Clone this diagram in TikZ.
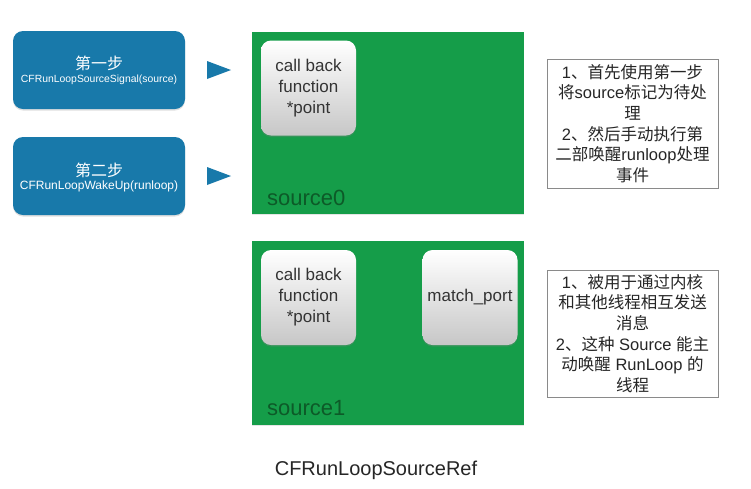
\documentclass[tikz,border=0pt]{standalone}
\usepackage{fontspec}
\setmainfont{Liberation Sans}
\newfontfamily\cjk{Noto Sans CJK SC}
\usetikzlibrary{shadows}
\definecolor{stepblue}{HTML}{1879AA}
\definecolor{panelgreen}{HTML}{159D49}
\definecolor{srctext}{HTML}{0D5A28}
\definecolor{notegray}{HTML}{8A8A8A}
\definecolor{darktext}{HTML}{333333}
\tikzset{
  stepbox/.style={fill=stepblue, rounded corners=10pt, minimum width=172pt, minimum height=78pt, inner sep=0pt,
    drop shadow={opacity=0.25, shadow xshift=0pt, shadow yshift=-1.5pt}},
  steptitle/.style={text=white, font=\cjk\fontsize{16}{18}\selectfont, inner sep=0pt},
  stepcall/.style={text=white, inner sep=0pt},
  pointer/.style={fill=stepblue},
  panel/.style={fill=panelgreen, minimum width=272pt, inner sep=0pt,
    drop shadow={opacity=0.2, shadow xshift=0pt, shadow yshift=-1pt}},
  field/.style={rounded corners=10pt, top color=white, bottom color=black!22, minimum width=95pt, minimum height=95pt,
    inner sep=0pt, align=center, text=darktext, font=\fontsize{17}{21}\selectfont,
    drop shadow={opacity=0.3, shadow xshift=0pt, shadow yshift=-1.5pt}},
  srclabel/.style={text=srctext, font=\fontsize{22}{24}\selectfont, anchor=west, inner sep=0pt},
  note/.style={draw=notegray, line width=1pt, minimum width=171pt, inner sep=0pt, align=center,
    font=\fontsize{16.5}{20.6}\selectfont, text=black!85},
}
\begin{document}
\begin{tikzpicture}[x=1pt,y=-1pt]
\useasboundingbox (0,0) rectangle (751,488);
\fill[white] (0,0) rectangle (751,488);

% step boxes
\node[stepbox] (s1) at (99,70) {};
\node[steptitle] (s1t) at (99,63) {第一步};
\node[stepcall, font=\fontsize{10.4}{12}\selectfont] (s1c) at (99,80) {CFRunLoopSourceSignal(source)};
\node[stepbox] (s2) at (99,176) {};
\node[steptitle] (s2t) at (99,170) {第二步};
\node[stepcall, font=\fontsize{12}{14}\selectfont] (s2c) at (99,186) {CFRunLoopWakeUp(runloop)};

% pointers
\fill[pointer] (207,61) -- (231,70) -- (207,79) -- cycle;
\fill[pointer] (207,167) -- (231,176) -- (207,185) -- cycle;

% panels
\node[panel, minimum height=182pt] (p0) at (388,123) {};
\node[field] (cb0) at (308.5,88) {call back\\function\\*point};
\node[srclabel] (l0) at (267,198) {source0};

\node[panel, minimum height=184pt] (p1) at (388,333) {};
\node[field] (cb1) at (308.5,297.5) {call back\\function\\*point};
\node[field] (mp1) at (470,297.5) {match\_port};
\node[srclabel] (l1) at (267,408) {source1};

% notes
\node[note, minimum height=129pt] (n0) at (632.5,123.5) {%
1{\cjk 、首先使用第一步}\\
{\cjk 将}source{\cjk 标记为待处}\\
{\cjk 理}\\
2{\cjk 、然后手动执行第}\\
{\cjk 二部唤醒}runloop{\cjk 处理}\\
{\cjk 事件}};
\node[note, minimum height=127pt] (n1) at (632.5,333.5) {%
1{\cjk 、被用于通过内核}\\
{\cjk 和其他线程相互发送}\\
{\cjk 消息}\\
2{\cjk 、这种} Source {\cjk 能主}\\
{\cjk 动唤醒} RunLoop {\cjk 的}\\
{\cjk 线程}};

% caption
\node[text=black!85, font=\fontsize{20}{22}\selectfont] (cap) at (376,470) {CFRunLoopSourceRef};
\end{tikzpicture}
\end{document}
